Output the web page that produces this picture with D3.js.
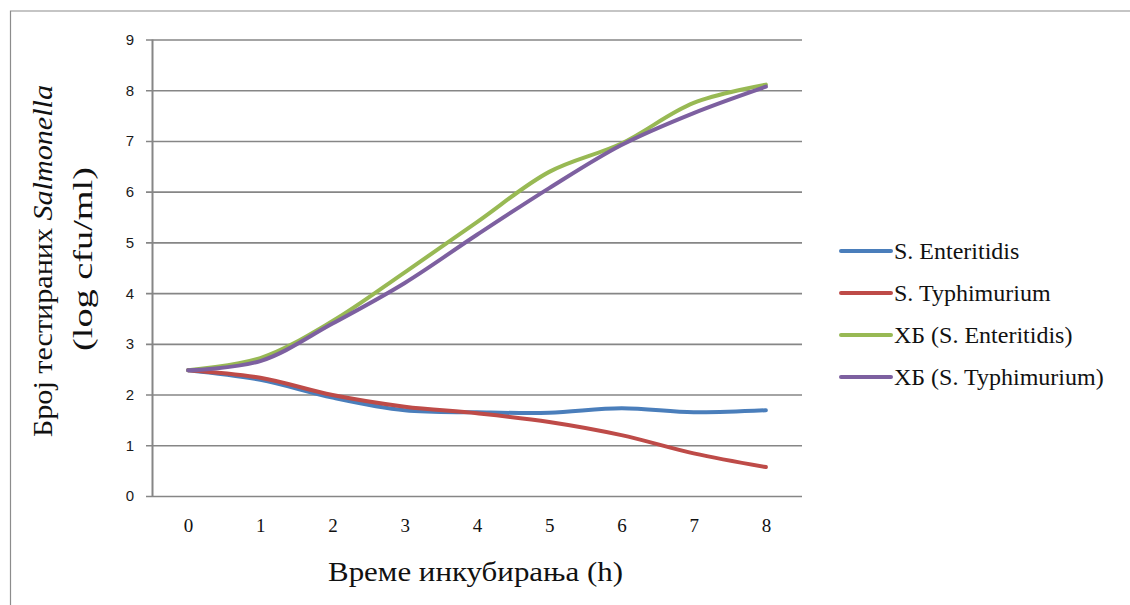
<!DOCTYPE html>
<html>
<head>
<meta charset="utf-8">
<script src="https://cdn.jsdelivr.net/npm/d3@7"></script>
<style>
  html, body { margin: 0; padding: 0; background: #fff; }
  svg { display: block; }
</style>
</head>
<body>
<svg id="chart" width="1130" height="605"></svg>
<script>
// Incubation hours (category axis)
const hours = [0, 1, 2, 3, 4, 5, 6, 7, 8];

// log cfu/ml for each series
const enteritidis      = [2.48, 2.29, 1.94, 1.69, 1.65, 1.64, 1.73, 1.65, 1.69];
const typhimurium      = [2.48, 2.33, 1.99, 1.76, 1.63, 1.46, 1.20, 0.84, 0.57];
const xbEnteritidis    = [2.48, 2.72, 3.45, 4.41, 5.40, 6.39, 6.95, 7.75, 8.11];
const xbTyphimurium    = [2.48, 2.66, 3.40, 4.20, 5.15, 6.07, 6.92, 7.55, 8.07];

const seriesNames  = ["S. Enteritidis", "S. Typhimurium", "ХБ (S. Enteritidis)", "ХБ (S. Typhimurium)"];
const seriesColors = ["#4A7EBB", "#BE4B48", "#98B954", "#7D60A0"];
const yTicks = [0, 1, 2, 3, 4, 5, 6, 7, 8, 9];

const seriesData = [enteritidis, typhimurium, xbEnteritidis, xbTyphimurium];

const svg = d3.select("#chart");
const SERIF = '"Liberation Serif"';
const SANS = '"Liberation Sans"';
const gridColor = "#868686";

// Outer chart frame
svg.append("path")
  .attr("d", "M10.5,1200 V11 H1200")
  .attr("fill", "none")
  .attr("stroke", "#8c8c8c")
  .attr("stroke-width", 1.2);

const x = d3.scalePoint().domain(hours).range([152, 802]).padding(0.5);
const y = d3.scaleLinear().domain([0, 9]).range([496, 39.5]);

// Horizontal gridlines, extended left to form tick marks
const gy = svg.append("g").attr("transform", "translate(802,0)");
gy.call(d3.axisLeft(y).tickValues(yTicks).tickSize(802 - 146).tickFormat(""));
gy.select(".domain").remove();
gy.selectAll(".tick line").attr("stroke", gridColor).attr("stroke-width", 1.6);

// Y tick labels
svg.append("g").selectAll("text")
  .data(yTicks)
  .join("text")
  .attr("x", 134)
  .attr("y", d => y(d))
  .attr("dy", "0.36em")
  .attr("text-anchor", "end")
  .style("font-family", SANS)
  .style("font-size", "15px")
  .attr("fill", "#1a1a1a")
  .text(d => d);

// Vertical axis line
svg.append("line")
  .attr("x1", 152.5).attr("x2", 152.5)
  .attr("y1", y(9)).attr("y2", y(0))
  .attr("stroke", gridColor).attr("stroke-width", 2);

// X axis (category labels, no tick marks)
const gx = svg.append("g").attr("transform", `translate(0,${y(0)})`);
gx.call(d3.axisBottom(x).tickSize(0).tickPadding(23));
gx.select(".domain").remove();
gx.attr("font-family", null);
gx.selectAll(".tick text")
  .style("font-family", SERIF)
  .style("font-size", "19px")
  .attr("fill", "#111");

// Series lines, smoothed
const line = d3.line()
  .x((d, i) => x(hours[i]))
  .y(d => y(d))
  .curve(d3.curveCatmullRom.alpha(0.5));

svg.append("g").selectAll("path")
  .data(seriesData)
  .join("path")
  .attr("d", d => line(d))
  .attr("fill", "none")
  .attr("stroke", (d, i) => seriesColors[i])
  .attr("stroke-width", 4)
  .attr("stroke-linejoin", "round")
  .attr("stroke-linecap", "round");

// Legend
const legendY = [251, 293, 335, 377];
const legend = svg.append("g").selectAll("g")
  .data(seriesNames)
  .join("g")
  .attr("transform", (d, i) => `translate(0,${legendY[i]})`);
legend.append("line")
  .attr("x1", 841).attr("x2", 891)
  .attr("stroke", (d, i) => seriesColors[i])
  .attr("stroke-width", 4)
  .attr("stroke-linecap", "round");
legend.append("text")
  .attr("x", 894)
  .attr("dy", "0.33em")
  .style("font-family", SERIF)
  .style("font-size", "24px")
  .attr("fill", "#111")
  .text(d => d);

// Axis titles
svg.append("text")
  .attr("x", 328).attr("y", 581)
  .attr("textLength", 295)
  .attr("lengthAdjust", "spacingAndGlyphs")
  .style("font-family", SERIF)
  .style("font-size", "27px")
  .attr("fill", "#111")
  .text("Време инкубирања (h)");

const yTitle = svg.append("text")
  .attr("transform", "translate(52,437) rotate(-90)")
  .attr("textLength", 352)
  .attr("lengthAdjust", "spacingAndGlyphs")
  .style("font-family", SERIF)
  .style("font-size", "27px")
  .attr("fill", "#111");
yTitle.append("tspan").text("Број тестираних ");
yTitle.append("tspan").style("font-style", "italic").text("Salmonella");

svg.append("text")
  .attr("transform", "translate(92,351) rotate(-90)")
  .attr("textLength", 184)
  .attr("lengthAdjust", "spacingAndGlyphs")
  .style("font-family", SERIF)
  .style("font-size", "27px")
  .attr("fill", "#111")
  .text("(log cfu/ml)");
</script>
</body>
</html>
